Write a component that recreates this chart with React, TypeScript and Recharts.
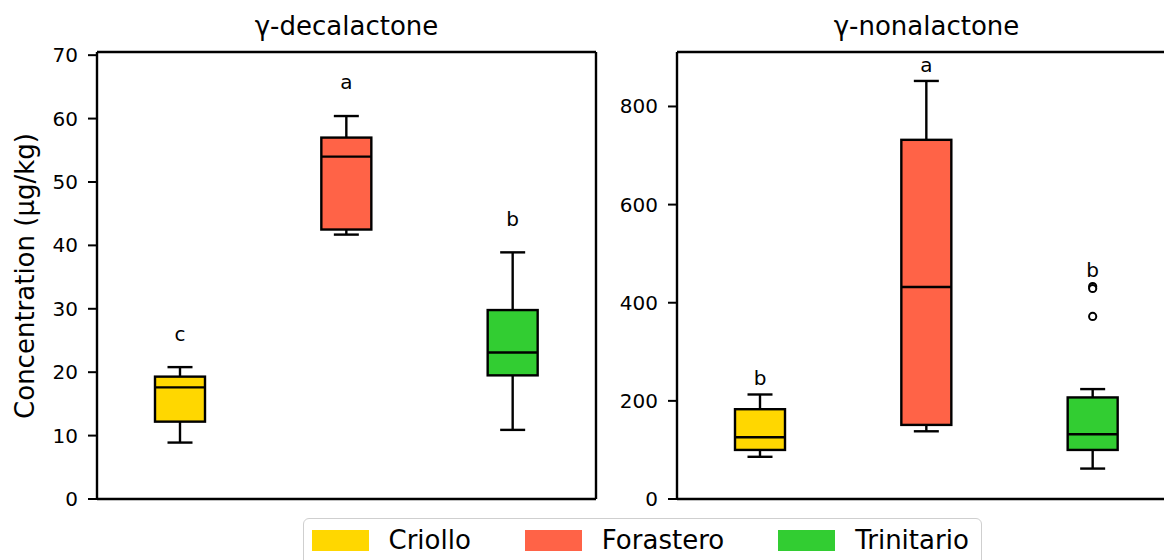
import { ComposedChart, Bar, XAxis, YAxis } from 'recharts';

const cultivars = ['Criollo', 'Forastero', 'Trinitario'];
const cultivarColors = ['#FFD700', '#FF6347', '#32CD32'];

// [lower whisker, Q1, median, Q3, upper whisker] per cultivar
const decaStats = [
  [8.9, 12.2, 17.6, 19.3, 20.8],
  [41.7, 42.5, 54.0, 57.0, 60.4],
  [10.9, 19.5, 23.1, 29.8, 38.9],
];
const decaOutliers: number[][] = [[], [], []];
const decaLetters = ['c', 'a', 'b'];
const decaLetterAt = [24.9, 64.6, 43.0];
const decaTicks = [0, 10, 20, 30, 40, 50, 60, 70];

const nonaStats = [
  [86, 100, 126, 183, 213],
  [138, 151, 432, 732, 852],
  [62, 100, 132, 207, 224],
];
const nonaOutliers: number[][] = [[], [], [433, 429, 372]];
const nonaLetters = ['b', 'a', 'b'];
const nonaLetterAt = [232, 871, 453];
const nonaTicks = [0, 200, 400, 600, 800];

const FONT = '"DejaVu Sans", sans-serif';
const LINE = 2.4;

function buildRows(stats: number[][], outliers: number[][], letters: string[], letterAt: number[]) {
  return cultivars.map((name, i) => {
    const [low, q1, median, q3, high] = stats[i];
    return {
      cultivar: name,
      color: cultivarColors[i],
      low,
      q1,
      median,
      q3,
      high,
      outliers: outliers[i],
      letter: letters[i],
      letterAt: letterAt[i],
    };
  });
}

// Draws one box: the bar spans low..high, everything else is placed on that linear span
function BoxShape(props: any) {
  const { x, y, width, height, payload } = props;
  if (!payload || width == null) return null;
  const top = Math.min(y, y + height);
  const bottom = Math.max(y, y + height);
  const span = payload.high - payload.low;
  const toPx = (v: number) => bottom - ((bottom - top) * (v - payload.low)) / span;
  const cx = x + width / 2;
  const capHalf = width / 4;
  const yHigh = toPx(payload.high);
  const yLow = toPx(payload.low);
  const yQ3 = toPx(payload.q3);
  const yQ1 = toPx(payload.q1);
  const yMed = toPx(payload.median);
  const s = { stroke: '#000', strokeWidth: LINE };
  return (
    <g>
      <line x1={cx} x2={cx} y1={yHigh} y2={yQ3} {...s} />
      <line x1={cx} x2={cx} y1={yQ1} y2={yLow} {...s} />
      <line x1={cx - capHalf} x2={cx + capHalf} y1={yHigh} y2={yHigh} {...s} />
      <line x1={cx - capHalf} x2={cx + capHalf} y1={yLow} y2={yLow} {...s} />
      <rect x={x} y={yQ3} width={width} height={yQ1 - yQ3} fill={payload.color} {...s} />
      <line x1={x} x2={x + width} y1={yMed} y2={yMed} {...s} />
      {payload.outliers.map((v: number, k: number) => (
        <circle key={k} cx={cx} cy={toPx(v)} r={3.6} fill="#fff" stroke="#000" strokeWidth={2} />
      ))}
      <text x={cx} y={toPx(payload.letterAt)} textAnchor="middle" fontSize={20} fill="#000">
        {payload.letter}
      </text>
    </g>
  );
}

function ValueTick({ x, y, payload }: any) {
  return (
    <text x={x} y={y} dy={7} textAnchor="end" fontSize={20} fill="#000">
      {payload.value}
    </text>
  );
}

const frameLine = { stroke: '#000', strokeWidth: LINE };

function BoxPanel({ rows, domain, ticks }: { rows: any[]; domain: number[]; ticks: number[] }) {
  return (
    <ComposedChart
      width={620}
      height={512}
      data={rows}
      margin={{ top: 51, right: 23, bottom: 12, left: 37 }}
    >
      <XAxis dataKey="cultivar" tick={false} tickLine={false} axisLine={frameLine} height={1} />
      <XAxis
        xAxisId="top"
        dataKey="cultivar"
        orientation="top"
        tick={false}
        tickLine={false}
        axisLine={frameLine}
        height={1}
      />
      <YAxis
        type="number"
        domain={domain}
        ticks={ticks}
        allowDataOverflow
        width={60}
        tickSize={9}
        tickMargin={10}
        tick={<ValueTick />}
        tickLine={{ stroke: '#000', strokeWidth: 2 }}
        axisLine={frameLine}
      />
      <YAxis
        yAxisId="right"
        orientation="right"
        type="number"
        domain={domain}
        allowDataOverflow
        tick={false}
        tickLine={false}
        axisLine={frameLine}
        width={1}
      />
      <Bar
        dataKey={(d: any) => [d.low, d.high]}
        barSize={50}
        shape={<BoxShape />}
        isAnimationActive={false}
      />
    </ComposedChart>
  );
}

export default function App() {
  const decaRows = buildRows(decaStats, decaOutliers, decaLetters, decaLetterAt);
  const nonaRows = buildRows(nonaStats, nonaOutliers, nonaLetters, nonaLetterAt);

  return (
    <div
      style={{
        position: 'absolute',
        left: 0,
        top: 0,
        width: 1164,
        height: 560,
        overflow: 'hidden',
        background: '#fff',
        fontFamily: FONT,
      }}
    >
      <div style={{ position: 'absolute', left: 0, top: 0 }}>
        <BoxPanel rows={decaRows} domain={[0, 70.5]} ticks={decaTicks} />
      </div>
      <div style={{ position: 'absolute', left: 580, top: 0 }}>
        <BoxPanel rows={nonaRows} domain={[0, 911]} ticks={nonaTicks} />
      </div>

      <svg
        width={1164}
        height={560}
        style={{ position: 'absolute', left: 0, top: 0, pointerEvents: 'none' }}
      >
        <text x={346.5} y={35} textAnchor="middle" fontSize={26} fill="#000">
          γ-decalactone
        </text>
        <text x={926.5} y={35} textAnchor="middle" fontSize={26} fill="#000">
          γ-nonalactone
        </text>
        <text
          transform="translate(34,276) rotate(-90)"
          textAnchor="middle"
          fontSize={26}
          fill="#000"
        >
          Concentration (µg/kg)
        </text>
      </svg>

      <div
        style={{
          position: 'absolute',
          left: 303,
          top: 518,
          width: 679,
          height: 70,
          boxSizing: 'border-box',
          border: '1.5px solid #cfcfcf',
          borderRadius: 6,
          background: '#fff',
          display: 'flex',
          alignItems: 'flex-start',
          padding: '10.5px 0 0 7.5px',
        }}
      >
        {cultivars.map((name, i) => (
          <div
            key={name}
            style={{ display: 'flex', alignItems: 'center', height: 21, marginRight: i < 2 ? 54 : 0 }}
          >
            <span style={{ width: 57, height: 21, background: cultivarColors[i], marginRight: 20 }} />
            <span style={{ fontSize: 26, lineHeight: '21px', color: '#000' }}>{name}</span>
          </div>
        ))}
      </div>
    </div>
  );
}
